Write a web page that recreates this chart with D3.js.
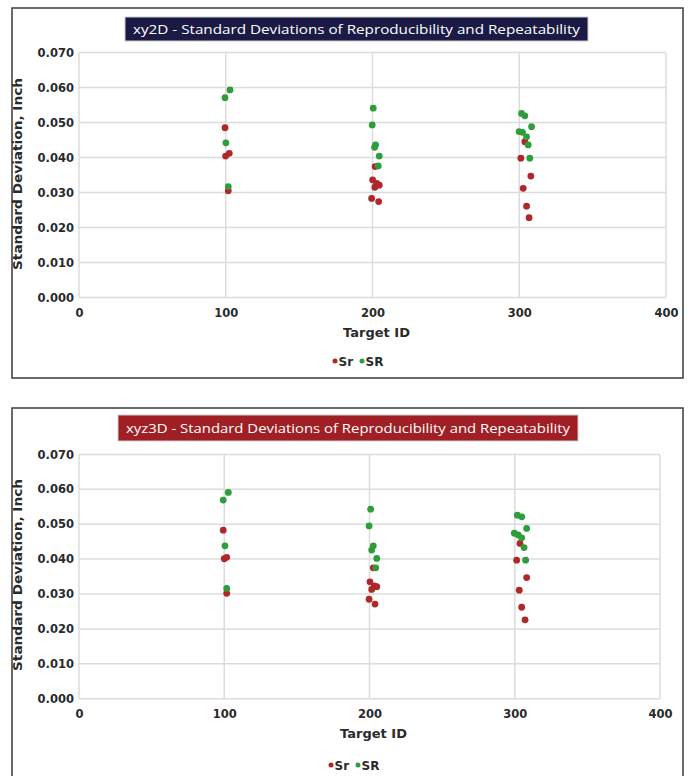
<!DOCTYPE html>
<html>
<head>
<meta charset="utf-8">
<script src="https://cdn.jsdelivr.net/npm/d3@7"></script>
<style>
  body { margin: 0; background: #fff; }
  svg { display: block; }
</style>
</head>
<body>
<svg width="691" height="776"></svg>
<script>
// tick labels
const xTicks = [0, 100, 200, 300, 400]
const yTicks = [0, 0.01, 0.02, 0.03, 0.04, 0.05, 0.06, 0.07]

// xy2D
const xy2dSrX = [99.5, 102.4, 99.9, 101.7, 201.8, 200.1, 202.8, 204.6, 201.6, 199.4, 204.2, 303.8, 301.1, 307.9, 302.7, 305, 306.7]
const xy2dSrY = [0.0485, 0.0412, 0.0404, 0.0305, 0.0374, 0.0336, 0.0326, 0.0321, 0.0315, 0.0283, 0.0274, 0.0445, 0.0398, 0.0347, 0.0312, 0.0261, 0.0228]
const xy2dSRX = [102.9, 99.5, 100.1, 101.7, 200.5, 199.8, 202.1, 201.4, 204.6, 203.9, 301.6, 303.8, 308.4, 299.9, 302.2, 305, 306.1, 307.2]
const xy2dSRY = [0.0593, 0.0571, 0.0442, 0.0317, 0.0541, 0.0493, 0.0436, 0.0429, 0.0404, 0.0376, 0.0526, 0.0519, 0.0488, 0.0474, 0.0472, 0.0459, 0.0436, 0.0398]

// xyz3D
const xyz3dSrX = [99.3, 101.7, 100, 101.7, 202.6, 200.3, 203.3, 205, 201.5, 199.7, 203.8, 303.6, 301.3, 308.2, 303.1, 304.8, 307.1]
const xyz3dSrY = [0.0483, 0.0405, 0.0401, 0.0302, 0.0375, 0.0335, 0.0323, 0.0321, 0.0313, 0.0285, 0.0271, 0.0445, 0.0397, 0.0347, 0.0311, 0.0262, 0.0226]
const xyz3dSRX = [102.8, 99.3, 100.5, 101.7, 200.8, 199.7, 202.6, 201.5, 205, 204.3, 301.8, 304.8, 308.2, 299.7, 302.4, 304.8, 306.4, 307.5]
const xyz3dSRY = [0.0591, 0.0569, 0.0438, 0.0316, 0.0543, 0.0495, 0.0438, 0.0426, 0.0402, 0.0375, 0.0526, 0.0521, 0.0488, 0.0474, 0.0469, 0.0461, 0.0433, 0.0397]

const red = '#b0272b'
const green = '#2f9e3a'
const font = 'DejaVu Sans'

const svg = d3.select('svg')

function drawChart (cfg) {
  const g = svg.append('g')

  g.append('rect')
    .attr('x', cfg.box[0]).attr('y', cfg.box[1])
    .attr('width', cfg.box[2]).attr('height', cfg.box[3])
    .attr('fill', '#fff').attr('stroke', '#3a3a3a').attr('stroke-width', 1.5)

  // title
  g.append('rect')
    .attr('x', cfg.titleBox[0]).attr('y', cfg.titleBox[1])
    .attr('width', cfg.titleBox[2]).attr('height', cfg.titleBox[3])
    .attr('fill', cfg.titleFill).attr('stroke', '#ccc').attr('stroke-width', 1)
  g.append('text')
    .attr('x', cfg.titleBox[0] + cfg.titleBox[2] / 2)
    .attr('y', cfg.titleBox[1] + cfg.titleBox[3] / 2 + 4.5)
    .attr('text-anchor', 'middle')
    .attr('fill', '#fff')
    .attr('font-family', 'Open Sans')
    .attr('font-size', 13)
    .attr('textLength', cfg.titleBox[2] - 16)
    .attr('lengthAdjust', 'spacingAndGlyphs')
    .text(cfg.title)

  const x = d3.scaleLinear().domain([0, 400]).range([cfg.plot.left, cfg.plot.right])
  const y = d3.scaleLinear().domain([0, 0.07]).range([cfg.plot.bottom, cfg.plot.top])

  // grid
  g.append('g').selectAll('line').data(yTicks).enter().append('line')
    .attr('x1', x(0)).attr('x2', x(400))
    .attr('y1', d => y(d)).attr('y2', d => y(d))
    .attr('stroke', '#dcdcdc').attr('stroke-width', 1.5)
  g.append('g').selectAll('line').data(xTicks).enter().append('line')
    .attr('x1', d => x(d)).attr('x2', d => x(d))
    .attr('y1', y(0)).attr('y2', y(0.07))
    .attr('stroke', '#dcdcdc').attr('stroke-width', 1.5)

  const yAxis = d3.axisLeft(y).tickValues(yTicks).tickFormat(d3.format('.3f')).tickSize(0).tickPadding(5)
  const xAxis = d3.axisBottom(x).tickValues(xTicks).tickSize(0).tickPadding(11)

  const ya = g.append('g').attr('transform', 'translate(' + x(0) + ',0)').call(yAxis)
  const xa = g.append('g').attr('transform', 'translate(0,' + y(0) + ')').call(xAxis)
  ;[ya, xa].forEach(a => {
    a.select('.domain').remove()
    a.selectAll('text')
      .attr('font-family', font).attr('font-weight', 'bold')
      .attr('font-size', 11.5).attr('fill', '#2a2a2a')
  })

  g.append('text')
    .attr('transform', 'translate(' + cfg.yTitle[0] + ',' + cfg.yTitle[1] + ') rotate(-90)')
    .attr('text-anchor', 'middle')
    .attr('font-family', font).attr('font-weight', 'bold').attr('font-size', 12)
    .attr('textLength', 192).attr('lengthAdjust', 'spacingAndGlyphs')
    .attr('fill', '#2a2a2a')
    .text('Standard Deviation, Inch')

  g.append('text')
    .attr('x', (x(0) + x(400)) / 2 + 4).attr('y', y(0) + 39)
    .attr('text-anchor', 'middle')
    .attr('font-family', font).attr('font-weight', 'bold').attr('font-size', 13)
    .attr('fill', '#2a2a2a')
    .text('Target ID')

  // points
  const sr = cfg.srX.map((d, i) => ({ x: d, y: cfg.srY[i] }))
  const SR = cfg.SRX.map((d, i) => ({ x: d, y: cfg.SRY[i] }))
  g.append('g').selectAll('circle').data(sr).enter().append('circle')
    .attr('cx', d => x(d.x)).attr('cy', d => y(d.y)).attr('r', 3.4).attr('fill', red)
  g.append('g').selectAll('circle').data(SR).enter().append('circle')
    .attr('cx', d => x(d.x)).attr('cy', d => y(d.y)).attr('r', 3.4).attr('fill', green)

  // legend
  const lg = g.append('g').attr('transform', 'translate(' + cfg.legend[0] + ',' + cfg.legend[1] + ')')
  lg.append('circle').attr('cx', 0).attr('cy', 0).attr('r', 2.5).attr('fill', red)
  lg.append('text').attr('x', 3.5).attr('y', 4.5)
    .attr('font-family', font).attr('font-weight', 'bold').attr('font-size', 12).attr('fill', '#2a2a2a')
    .text('Sr')
  lg.append('circle').attr('cx', 27).attr('cy', 0).attr('r', 2.5).attr('fill', green)
  lg.append('text').attr('x', 30.5).attr('y', 4.5)
    .attr('font-family', font).attr('font-weight', 'bold').attr('font-size', 12).attr('fill', '#2a2a2a')
    .text('SR')
}

drawChart({
  box: [12, 8, 671, 370],
  titleBox: [125, 17, 463, 24],
  titleFill: '#1b1a44',
  title: 'xy2D - Standard Deviations of Reproducibility and Repeatability',
  plot: { left: 79, right: 666, top: 52.5, bottom: 297.5 },
  yTitle: [22, 174],
  legend: [335, 361],
  srX: xy2dSrX, srY: xy2dSrY, SRX: xy2dSRX, SRY: xy2dSRY
})

drawChart({
  box: [12, 408, 671, 380],
  titleBox: [118, 415, 460, 26],
  titleFill: '#a01f25',
  title: 'xyz3D - Standard Deviations of Reproducibility and Repeatability',
  plot: { left: 79, right: 660, top: 454.4, bottom: 698.7 },
  yTitle: [22, 575],
  legend: [331, 765],
  srX: xyz3dSrX, srY: xyz3dSrY, SRX: xyz3dSRX, SRY: xyz3dSRY
})
</script>
</body>
</html>
